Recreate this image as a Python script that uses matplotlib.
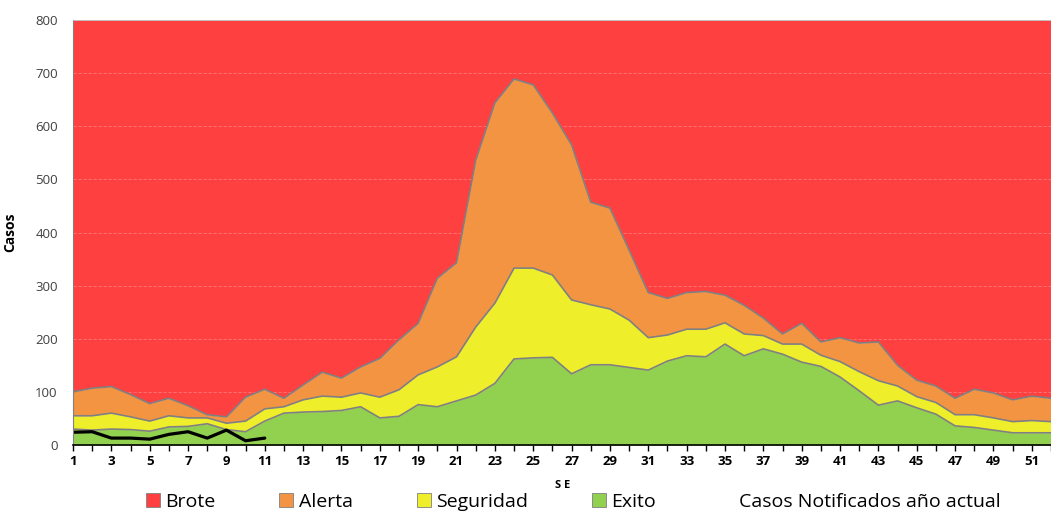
import matplotlib
matplotlib.use("Agg")
import matplotlib.pyplot as plt
from matplotlib.patches import Patch
from matplotlib.lines import Line2D

# epidemic channel: cumulative upper limit of each zone per epidemiological week
weeks = list(range(1, 53))
exito = [30, 28, 30, 29, 26, 34, 35, 40, 29, 25, 45, 60, 62, 63, 65, 72, 51, 54, 76, 72,
         83, 94, 116, 162, 164, 165, 134, 151, 151, 146, 141, 158, 168, 166, 190, 168, 181, 171, 156, 148,
         128, 102, 75, 83, 70, 58, 36, 33, 28, 23, 23, 23]
seguridad = [55, 55, 60, 53, 45, 55, 51, 51, 41, 45, 68, 72, 85, 92, 90, 98, 90, 104, 132, 147,
             166, 222, 267, 333, 333, 320, 273, 264, 256, 235, 202, 207, 218, 218, 230, 209, 206, 190, 190, 169,
             157, 138, 121, 111, 91, 80, 57, 57, 51, 44, 46, 44]
alerta = [100, 107, 110, 95, 78, 88, 74, 57, 53, 90, 105, 88, 113, 137, 126, 147, 163, 198, 229, 314,
          343, 536, 644, 689, 678, 625, 565, 457, 446, 367, 287, 276, 287, 289, 282, 263, 239, 209, 229, 194,
          202, 192, 194, 150, 122, 111, 88, 105, 98, 85, 92, 88]
brote_top = 800

# cases reported this year
weeks_actual = list(range(1, 12))
casos_actual = [24, 25, 13, 13, 11, 20, 25, 13, 28, 8, 13]

c_brote = "#ff4040"
c_alerta = "#f39443"
c_seguridad = "#eeee2a"
c_exito = "#92d050"
c_edge = "#808080"

fig = plt.figure(figsize=(10.51, 5.12), dpi=100)
ax = fig.add_axes([73 / 1051, 67 / 512, 978 / 1051, 425 / 512])

ax.fill_between(weeks, alerta, brote_top, color=c_brote, lw=0, zorder=1)
for y in range(100, 800, 100):
    ax.axhline(y, color="#ff7676", lw=0.6, ls=(0, (4, 2)), zorder=1.5)
ax.fill_between(weeks, seguridad, alerta, color=c_alerta, lw=0, zorder=2)
ax.fill_between(weeks, exito, seguridad, color=c_seguridad, lw=0, zorder=2)
ax.fill_between(weeks, 0, exito, color=c_exito, lw=0, zorder=2)
for level in (exito, seguridad, alerta):
    ax.plot(weeks, level, color=c_edge, lw=1.2, zorder=3)

ax.plot(weeks_actual, casos_actual, color="black", lw=2.3, zorder=4, solid_capstyle="round")

ax.set_xlim(1, 51.46)
ax.set_ylim(0, 800)

ax.set_xticks(weeks)
ax.set_xticklabels([str(w) if w % 2 == 1 else "" for w in weeks],
                   fontsize=9.5, fontweight="bold", family="Open Sans")
ax.tick_params(axis="x", direction="out", length=4, width=1, color="black", pad=3.5)
ax.set_yticks(range(0, 801, 100))
ax.set_yticklabels([str(v) for v in range(0, 801, 100)], fontsize=9.5, family="Open Sans",
                   color="#404040")
ax.tick_params(axis="y", length=0, pad=11)

ax.spines["bottom"].set_color("black")
ax.spines["bottom"].set_linewidth(1.2)
ax.spines["left"].set_color("#808080")
ax.spines["top"].set_color("#c0c0c0")
ax.spines["top"].set_linewidth(0.6)
ax.spines["right"].set_visible(False)
for sp in ax.spines.values():
    sp.set_zorder(5)

ax.set_ylabel("Casos", fontsize=10, fontweight="bold", family="Open Sans")
ax.yaxis.set_label_coords(-0.057, 0.5)
ax.set_xlabel("S E", fontsize=8, fontweight="bold", family="Open Sans")
ax.xaxis.set_label_coords(0.501, -0.083)

handles = [
    Patch(facecolor=c_brote, edgecolor=c_edge, lw=0.6),
    Patch(facecolor=c_alerta, edgecolor=c_edge, lw=0.6),
    Patch(facecolor=c_seguridad, edgecolor=c_edge, lw=0.6),
    Patch(facecolor=c_exito, edgecolor=c_edge, lw=0.6),
    Line2D([], [], linestyle="none"),
]
labels = ["Brote", "Alerta", "Seguridad", "Exito", "Casos Notificados año actual"]
fig.legend(handles, labels, loc="center left", bbox_to_anchor=(146 / 1051, 1 - 502 / 512),
           ncol=5, frameon=False, borderpad=0, borderaxespad=0,
           prop={"family": "Open Sans", "size": 14},
           handlelength=0.72, handleheight=0.72, handletextpad=0.26, columnspacing=3.3)

fig.savefig("out.png", dpi=100)
